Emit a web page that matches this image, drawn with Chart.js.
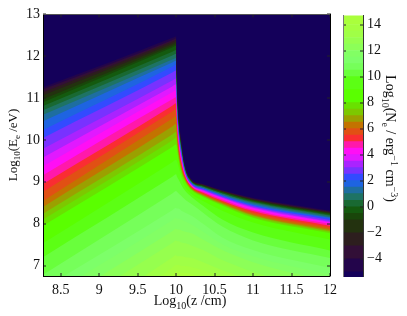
<!DOCTYPE html>
<html>
<head>
<meta charset="utf-8">
<style>
html,body{margin:0;padding:0;background:#fff;width:407px;height:316px;overflow:hidden}
canvas{position:absolute;top:0}
#main{left:0}
#bar{left:335px}
</style>
<script src="https://cdn.jsdelivr.net/npm/chart.js@4"></script>
</head>
<body>
<canvas id="main" width="407" height="316"></canvas>
<canvas id="bar" width="72" height="316"></canvas>
<script>
const xTicks = [8.5, 9, 9.5, 10, 10.5, 11, 11.5, 12];
const yTicks = [7, 8, 9, 10, 11, 12, 13];
const barTicks = [-4, -2, 0, 2, 4, 6, 8, 10, 12, 14];
const zGrid = [8.27, 9.95, 10, 10.01, 10.03, 10.07, 10.12, 10.2, 10.35, 10.6, 11, 12];
const barBottom = -5.4;

// upper bound of each colour band
const levels = [-5, -4, -3, -2, -1, -0.5, 0, 0.5, 1, 1.5, 2, 2.5, 3, 3.5, 4, 4.5, 5, 5.5, 6, 6.5, 7, 7.5, 8, 9, 10, 10.5, 11, 11.5, 12, 12.5, 13, 13.5, 14, 14.7];
const bandColors = [
  'rgb(20,0,90)', 'rgb(35,5,75)', 'rgb(50,15,55)', 'rgb(45,30,30)', 'rgb(35,50,15)', 'rgb(25,70,10)',
  'rgb(20,90,15)', 'rgb(25,105,50)', 'rgb(30,115,100)', 'rgb(30,110,160)', 'rgb(30,100,225)', 'rgb(50,75,255)',
  'rgb(120,50,255)', 'rgb(170,35,255)', 'rgb(225,25,255)', 'rgb(255,15,245)', 'rgb(255,25,170)', 'rgb(250,45,50)',
  'rgb(225,80,20)', 'rgb(195,115,0)', 'rgb(155,160,0)', 'rgb(125,200,0)', 'rgb(105,225,0)', 'rgb(90,255,0)',
  'rgb(92,255,20)', 'rgb(105,255,60)', 'rgb(118,255,90)', 'rgb(125,255,105)', 'rgb(130,255,100)', 'rgb(140,255,88)',
  'rgb(150,255,78)', 'rgb(160,255,70)', 'rgb(165,255,65)', 'rgb(170,255,60)'
];

// log10(E) of each level's contour at the zGrid positions
const contours = [
  [11.26,12.44,12.48,11.61,10.71,9.96,9.37,9.06,8.95,8.80,8.62,8.31],
  [11.21,12.39,12.43,11.56,10.68,9.94,9.36,9.05,8.94,8.79,8.60,8.29],
  [11.14,12.35,12.39,11.50,10.64,9.91,9.35,9.04,8.93,8.78,8.59,8.28],
  [11.07,12.30,12.34,11.45,10.61,9.89,9.34,9.04,8.92,8.77,8.57,8.26],
  [10.97,12.25,12.29,11.40,10.57,9.87,9.32,9.03,8.91,8.76,8.56,8.25],
  [10.90,12.21,12.25,11.36,10.55,9.85,9.32,9.02,8.90,8.75,8.55,8.23],
  [10.81,12.11,12.15,11.29,10.50,9.82,9.30,9.01,8.89,8.73,8.53,8.21],
  [10.71,12.02,12.06,11.22,10.46,9.79,9.29,9.00,8.88,8.72,8.51,8.19],
  [10.60,11.92,11.96,11.13,10.40,9.76,9.27,8.99,8.86,8.70,8.49,8.16],
  [10.45,11.85,11.89,11.04,10.34,9.72,9.25,8.98,8.85,8.68,8.46,8.14],
  [10.24,11.75,11.80,10.97,10.30,9.69,9.23,8.97,8.84,8.67,8.44,8.12],
  [10.05,11.61,11.66,10.88,10.24,9.65,9.21,8.95,8.82,8.65,8.42,8.09],
  [9.79,11.42,11.47,10.79,10.18,9.61,9.20,8.94,8.81,8.63,8.40,8.06],
  [9.58,11.28,11.33,10.72,10.14,9.58,9.18,8.93,8.79,8.62,8.38,8.04],
  [9.37,11.14,11.19,10.64,10.09,9.55,9.17,8.92,8.78,8.60,8.36,8.02],
  [9.16,10.97,11.02,10.54,10.02,9.50,9.14,8.90,8.76,8.58,8.33,7.99],
  [8.95,10.82,10.88,10.41,9.94,9.45,9.12,8.89,8.74,8.55,8.30,7.95],
  [8.76,10.68,10.74,10.30,9.87,9.41,9.09,8.87,8.72,8.53,8.27,7.92],
  [8.54,10.51,10.57,10.20,9.80,9.36,9.07,8.86,8.70,8.51,8.24,7.88],
  [8.40,10.32,10.38,10.09,9.73,9.31,9.05,8.84,8.69,8.49,8.21,7.85],
  [8.24,10.13,10.19,10.00,9.68,9.28,9.03,8.83,8.67,8.47,8.19,7.82],
  [8.10,9.99,10.05,9.91,9.62,9.24,9.01,8.81,8.66,8.45,8.16,7.80],
  [7.95,9.83,9.89,9.82,9.56,9.20,8.99,8.80,8.64,8.43,8.14,7.77],
  [7.53,9.47,9.53,9.49,9.37,9.09,8.87,8.71,8.54,8.31,8.03,7.62],
  [7.20,9.12,9.18,9.13,9.06,8.92,8.78,8.64,8.43,8.10,7.79,7.36],
  [6.78,8.72,8.78,8.76,8.73,8.66,8.57,8.47,8.26,7.93,7.60,7.18],
  [6.45,8.32,8.38,8.36,8.36,8.31,8.26,8.19,8.00,7.67,7.37,6.94],
  [6.19,8.08,8.14,8.12,8.12,8.10,8.05,7.98,7.81,7.51,7.22,6.78],
  [5.90,7.82,7.88,7.86,7.86,7.84,7.81,7.77,7.62,7.37,7.08,6.61],
  [5.60,7.54,7.60,7.58,7.58,7.55,7.53,7.48,7.37,7.13,6.85,6.37],
  [5.13,7.19,7.25,7.22,7.22,7.22,7.20,7.18,7.08,6.89,6.66,6.19],
  [4.80,6.95,7.01,7.01,7.01,6.99,6.99,6.96,6.89,6.73,6.47,6.00],
  [4.50,6.78,6.85,6.85,6.85,6.82,6.82,6.80,6.73,6.56,6.30,5.83],
  [4.00,4.00,4.00,4.00,4.00,4.00,4.00,4.00,4.00,4.00,4.00,4.00]
];

const SERIF = '"Liberation Serif"';
const TICK_PX = 14;

function richText(ctx, segs, cx, cy, rot) {
  ctx.save();
  ctx.translate(cx, cy);
  ctx.rotate(rot);
  ctx.fillStyle = '#111';
  ctx.textBaseline = 'alphabetic';
  ctx.textAlign = 'left';
  let w = 0;
  segs.forEach(s => { ctx.font = s.size + 'px ' + SERIF; w += ctx.measureText(s.t).width; });
  let x = -w / 2;
  segs.forEach(s => {
    ctx.font = s.size + 'px ' + SERIF;
    ctx.fillText(s.t, x, s.dy || 0);
    x += ctx.measureText(s.t).width;
  });
  ctx.restore();
}

const N = 14, S = 10;
const mainTitles = {
  id: 'mainTitles',
  afterDraw(c) {
    const ctx = c.ctx;
    richText(ctx, [{t:'Log',size:N},{t:'10',size:S,dy:4},{t:'(z /cm)',size:N}], 190, 305, 0);
    richText(ctx, [{t:'Log',size:13},{t:'10',size:9,dy:3},{t:'(E',size:13},{t:'e',size:9,dy:3},{t:' /eV)',size:13}], 17, 145, -Math.PI / 2);
  }
};
const barTitle = {
  id: 'barTitle',
  afterDraw(c) {
    richText(c.ctx, [{t:'Log',size:N},{t:'10',size:S,dy:4},{t:'(N',size:N},{t:'e',size:S,dy:4},{t:' / erg',size:N},{t:'\u22121',size:S,dy:-5},{t:' cm',size:N},{t:'\u22123',size:S,dy:-5},{t:')',size:N}], 51, 138.5, Math.PI / 2);
  }
};

function axis(position, min, max, ticks, size, showLabels, padding, color, fmt) {
  return {
    type: 'linear', position, min, max,
    afterBuildTicks(s) { s.ticks = ticks.map(v => ({ value: v })); },
    afterFit(s) {
      if (position === 'left' || position === 'right') s.width = size; else s.height = size;
    },
    border: { display: true, color: color, width: 1, z: 2 },
    grid: { drawOnChartArea: false, drawTicks: true, tickLength: -3, lineWidth: 0, tickWidth: 1, color: '#222', tickColor: '#222', z: 1 },
    ticks: {
      display: showLabels, padding, autoSkip: false, maxRotation: 0, minRotation: 0,
      color: '#111', font: { family: SERIF, size: TICK_PX }, z: 2,
      callback: fmt || (v => String(v))
    }
  };
}

const xMin = zGrid[0], xMax = zGrid[zGrid.length - 1];
const yMin = 6.75, yMax = 13;

new Chart(document.getElementById('main'), {
  type: 'scatter',
  data: {
    datasets: levels.map((lv, i) => ({
      label: 'band up to ' + lv,
      data: contours[i].map((e, k) => ({ x: zGrid[k], y: e })),
      showLine: true, pointRadius: 0, borderWidth: 0, cubicInterpolationMode: 'monotone',
      fill: 'end', backgroundColor: bandColors[i], borderColor: bandColors[i]
    }))
  },
  options: {
    responsive: false, animation: false, events: [],
    layout: { padding: { left: 0, right: 77, top: 11, bottom: 0 } },
    plugins: { legend: { display: false }, tooltip: { enabled: false } },
    scales: {
      x: axis('bottom', xMin, xMax, xTicks, 40, true, 9, '#000'),
      y: axis('left', yMin, yMax, yTicks, 43, true, 6, '#000'),
      x2: axis('top', xMin, xMax, xTicks, 0, false, 0, '#555'),
      y2: axis('right', yMin, yMax, yTicks, 0, false, 0, '#000')
    }
  },
  plugins: [mainTitles]
});

const barLabels = ['N'];
new Chart(document.getElementById('bar'), {
  type: 'bar',
  data: {
    labels: barLabels,
    datasets: levels.map((lv, i) => ({
      label: 'band up to ' + lv,
      data: [[i === 0 ? barBottom : levels[i - 1], lv]],
      backgroundColor: bandColors[i], borderWidth: 0,
      barPercentage: 1, categoryPercentage: 1, grouped: false
    }))
  },
  options: {
    responsive: false, animation: false, events: [],
    layout: { padding: { left: 0, right: 0, top: 10, bottom: 39 } },
    plugins: { legend: { display: false }, tooltip: { enabled: false } },
    scales: {
      x: { display: false },
      y: axis('right', barBottom, 14.7, barTicks, 44, true, 7, '#333', v => v < 0 ? '\u2212' + Math.abs(v) : String(v)),
      yL: axis('left', barBottom, 14.7, barTicks, 8, false, 0, '#777')
    }
  },
  plugins: [barTitle]
});
</script>
</body>
</html>
